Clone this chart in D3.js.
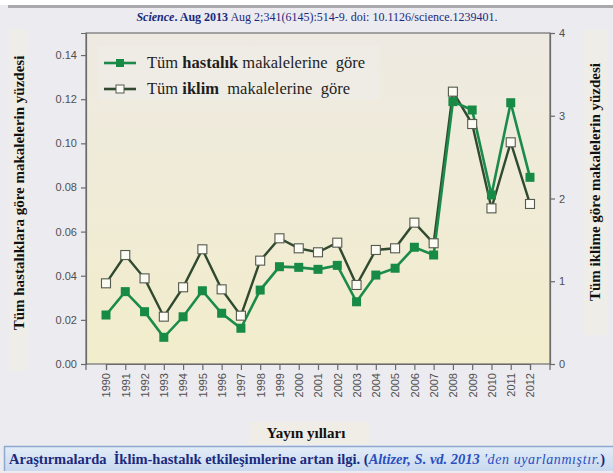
<!DOCTYPE html>
<html>
<head>
<meta charset="utf-8">
<script src="https://cdn.jsdelivr.net/npm/d3@7/dist/d3.min.js"></script>
<style>
  html, body { margin: 0; padding: 0; background: #ecebf0; }
  svg { display: block; }
</style>
</head>
<body>
<svg id="chart" width="613" height="473"></svg>
<script>
// Publication years
const years = [1990, 1991, 1992, 1993, 1994, 1995, 1996, 1997, 1998, 1999, 2000,
               2001, 2002, 2003, 2004, 2005, 2006, 2007, 2008, 2009, 2010, 2011, 2012];

// Share of all disease papers (left axis)
const diseaseShare = [0.0222, 0.0328, 0.0237, 0.0121, 0.0214, 0.0332, 0.0230, 0.0162,
                      0.0335, 0.0441, 0.0438, 0.0429, 0.0447, 0.0282, 0.0403, 0.0434,
                      0.0529, 0.0494, 0.1189, 0.1151, 0.0766, 0.1184, 0.0846];

// Share of all climate papers (right axis)
const climateShare = [0.975, 1.317, 1.035, 0.572, 0.927, 1.386, 0.902, 0.584,
                      1.249, 1.519, 1.398, 1.350, 1.466, 0.955, 1.378, 1.398,
                      1.708, 1.459, 3.291, 2.900, 1.881, 2.679, 1.934];

const leftTicks = [0, 0.02, 0.04, 0.06, 0.08, 0.10, 0.12, 0.14];
const rightTicks = [0, 1, 2, 3, 4];

const legendLabels = [
  { bold: "hastalık", rest: " makalelerine  göre" },
  { bold: "iklim", rest: "  makalelerine  göre" }
];

const svg = d3.select("#chart");
const W = 613, H = 473;
const plot = { left: 86, right: 550, top: 33, bottom: 364 };

const defs = svg.append("defs");
const bgGrad = defs.append("linearGradient").attr("id", "plotBg")
  .attr("x1", 0).attr("y1", 0).attr("x2", 0).attr("y2", 1);
bgGrad.append("stop").attr("offset", "0%").attr("stop-color", "#eeeae2");
bgGrad.append("stop").attr("offset", "100%").attr("stop-color", "#f2edcb");
const capGrad = defs.append("linearGradient").attr("id", "capBg")
  .attr("x1", 0).attr("y1", 0).attr("x2", 0).attr("y2", 1);
capGrad.append("stop").attr("offset", "0%").attr("stop-color", "#e4edf8");
capGrad.append("stop").attr("offset", "100%").attr("stop-color", "#c9d9ef");

// page backdrop
svg.append("rect").attr("width", W).attr("height", H).attr("fill", "#ecebf0");
svg.append("rect").attr("x", 0).attr("y", 0).attr("width", W).attr("height", 5).attr("fill", "#ffffff");
svg.append("rect").attr("x", 8).attr("y", 5).attr("width", W - 8).attr("height", 3).attr("fill", "#a9a9ad");

// light strips behind the axis titles
svg.append("rect").attr("x", 9).attr("y", 30).attr("width", 19).attr("height", 340).attr("fill", "#efede8");
svg.append("rect").attr("x", 583).attr("y", 30).attr("width", 24).attr("height", 305).attr("fill", "#efede8");
svg.append("rect").attr("x", 250).attr("y", 422).attr("width", 120).attr("height", 22).attr("fill", "#efede6");

// header reference line
const header = svg.append("text").attr("x", 317).attr("y", 21)
  .attr("text-anchor", "middle").attr("fill", "#1b2a7d")
  .attr("font-family", "Liberation Serif, serif").attr("font-size", 12);
header.append("tspan").attr("font-weight", "bold").attr("font-style", "italic").text("Science");
header.append("tspan").attr("font-weight", "bold").text(". Aug 2013");
header.append("tspan").text(" Aug 2;341(6145):514-9.  doi: 10.1126/science.1239401.");

// scales
const x = d3.scalePoint().domain(years).range([106, 530]);
const yL = d3.scaleLinear().domain([0, 0.15]).range([plot.bottom, plot.top]);
const yR = d3.scaleLinear().domain([0, 4]).range([plot.bottom, plot.top]);

// plot area
svg.append("rect").attr("x", plot.left).attr("y", plot.top)
  .attr("width", plot.right - plot.left).attr("height", plot.bottom - plot.top)
  .attr("fill", "url(#plotBg)").attr("stroke", "#6e6e6e").attr("stroke-width", 1.2);

const axisColor = "#6a6a6a";
const tickFont = "Liberation Sans, Arial, sans-serif";

// left axis
const gL = svg.append("g").attr("transform", `translate(${plot.left},0)`)
  .call(d3.axisLeft(yL).tickValues(leftTicks).tickFormat(d3.format(".2f")).tickSize(5).tickPadding(4));
// right axis
const gR = svg.append("g").attr("transform", `translate(${plot.right},0)`)
  .call(d3.axisRight(yR).tickValues(rightTicks).tickFormat(d3.format("d")).tickSize(5).tickPadding(4));
// bottom axis
const gB = svg.append("g").attr("transform", `translate(0,${plot.bottom})`)
  .call(d3.axisBottom(x).tickSize(6).tickPadding(4));
gB.append("line").attr("x1", plot.left).attr("x2", plot.left).attr("y1", 0).attr("y2", 6);
gB.append("line").attr("x1", plot.right).attr("x2", plot.right).attr("y1", 0).attr("y2", 6);
gB.selectAll(".tick text")
  .attr("transform", "rotate(-90)")
  .attr("text-anchor", "end")
  .attr("x", -9).attr("y", 0).attr("dy", "0.35em");

[gL, gR, gB].forEach(g => {
  g.select(".domain").attr("stroke", axisColor).attr("stroke-width", 1.2);
  g.selectAll("line").attr("stroke", axisColor).attr("stroke-width", 1.2);
  g.selectAll("text").attr("fill", "#505050").attr("font-family", tickFont).attr("font-size", 11);
});

// series
const diseaseColor = "#1b8b4b";
const climateColor = "#2f4a2f";
const line = y => d3.line().x((d, i) => x(years[i])).y(d => y(d));

svg.append("path").datum(climateShare).attr("d", line(yR))
  .attr("fill", "none").attr("stroke", climateColor).attr("stroke-width", 2.4);
svg.append("path").datum(diseaseShare).attr("d", line(yL))
  .attr("fill", "none").attr("stroke", diseaseColor).attr("stroke-width", 2.6);

const sq = 9;
svg.append("g").selectAll("rect").data(diseaseShare).join("rect")
  .attr("x", (d, i) => x(years[i]) - sq / 2).attr("y", d => yL(d) - sq / 2)
  .attr("width", sq).attr("height", sq)
  .attr("fill", "#178a45");
svg.append("g").selectAll("rect").data(climateShare).join("rect")
  .attr("x", (d, i) => x(years[i]) - sq / 2).attr("y", d => yR(d) - sq / 2)
  .attr("width", sq).attr("height", sq)
  .attr("fill", "#fbfaf3").attr("stroke", "#555a4e").attr("stroke-width", 1.1);

// legend
const legend = svg.append("g");
legend.append("rect").attr("x", 98).attr("y", 46).attr("width", 282).attr("height", 54)
  .attr("fill", "#efece5");
const legendRows = [
  { y: 63, color: diseaseColor, fill: "#178a45", stroke: "none" },
  { y: 89, color: climateColor, fill: "#fbfaf3", stroke: "#555a4e" }
];
legendRows.forEach((r, i) => {
  legend.append("line").attr("x1", 104).attr("x2", 136).attr("y1", r.y).attr("y2", r.y)
    .attr("stroke", r.color).attr("stroke-width", 2.6);
  legend.append("rect").attr("x", 120 - 4).attr("y", r.y - 4).attr("width", 8).attr("height", 8)
    .attr("fill", r.fill).attr("stroke", r.stroke).attr("stroke-width", 1);
  const t = legend.append("text").attr("x", 147).attr("y", r.y + 5)
    .attr("font-family", "Liberation Serif, serif").attr("font-size", 16.5).attr("fill", "#1e1e1e")
    .attr("xml:space", "preserve");
  t.append("tspan").text("Tüm ");
  t.append("tspan").attr("font-weight", "bold").text(legendLabels[i].bold);
  t.append("tspan").text(legendLabels[i].rest);
});

// axis titles
const titleFont = "Liberation Serif, serif";
svg.append("text").attr("transform", "translate(24,193) rotate(-90)")
  .attr("text-anchor", "middle").attr("font-family", titleFont).attr("font-weight", "bold")
  .attr("font-size", 15).attr("fill", "#111").text("Tüm hastalıklara göre makalelerin yüzdesi");
svg.append("text").attr("transform", "translate(600,182) rotate(-90)")
  .attr("text-anchor", "middle").attr("font-family", titleFont).attr("font-weight", "bold")
  .attr("font-size", 15).attr("fill", "#111").text("Tüm iklime göre makalelerin yüzdesi");
svg.append("text").attr("x", 306).attr("y", 438)
  .attr("text-anchor", "middle").attr("font-family", titleFont).attr("font-weight", "bold")
  .attr("font-size", 15).attr("fill", "#111").text("Yayın yılları");

// caption bar
svg.append("rect").attr("x", 4).attr("y", 446).attr("width", W - 4).attr("height", 25)
  .attr("fill", "url(#capBg)");
svg.append("line").attr("x1", 4).attr("x2", W).attr("y1", 446.5).attr("y2", 446.5)
  .attr("stroke", "#8ea9cf").attr("stroke-width", 1.5);
svg.append("line").attr("x1", 4.5).attr("x2", 4.5).attr("y1", 446).attr("y2", 471)
  .attr("stroke", "#8ea9cf").attr("stroke-width", 1.5);
const cap = svg.append("text").attr("x", 9).attr("y", 464)
  .attr("font-family", titleFont).attr("font-size", 14.5).attr("fill", "#1b2a7d")
  .attr("xml:space", "preserve");
cap.append("tspan").attr("font-weight", "bold").text("Araştırmalarda  İklim-hastalık etkileşimlerine artan ilgi. (");
cap.append("tspan").attr("font-weight", "bold").attr("font-style", "italic").attr("fill", "#2a4fc0")
  .text("Altizer, S. vd. 2013");
cap.append("tspan").attr("font-style", "italic").attr("fill", "#2a4fc0").attr("font-size", 14)
  .attr("letter-spacing", 0.6).text(" 'den uyarlanmıştır.");
cap.append("tspan").attr("font-weight", "bold").text(")");
</script>
</body>
</html>
